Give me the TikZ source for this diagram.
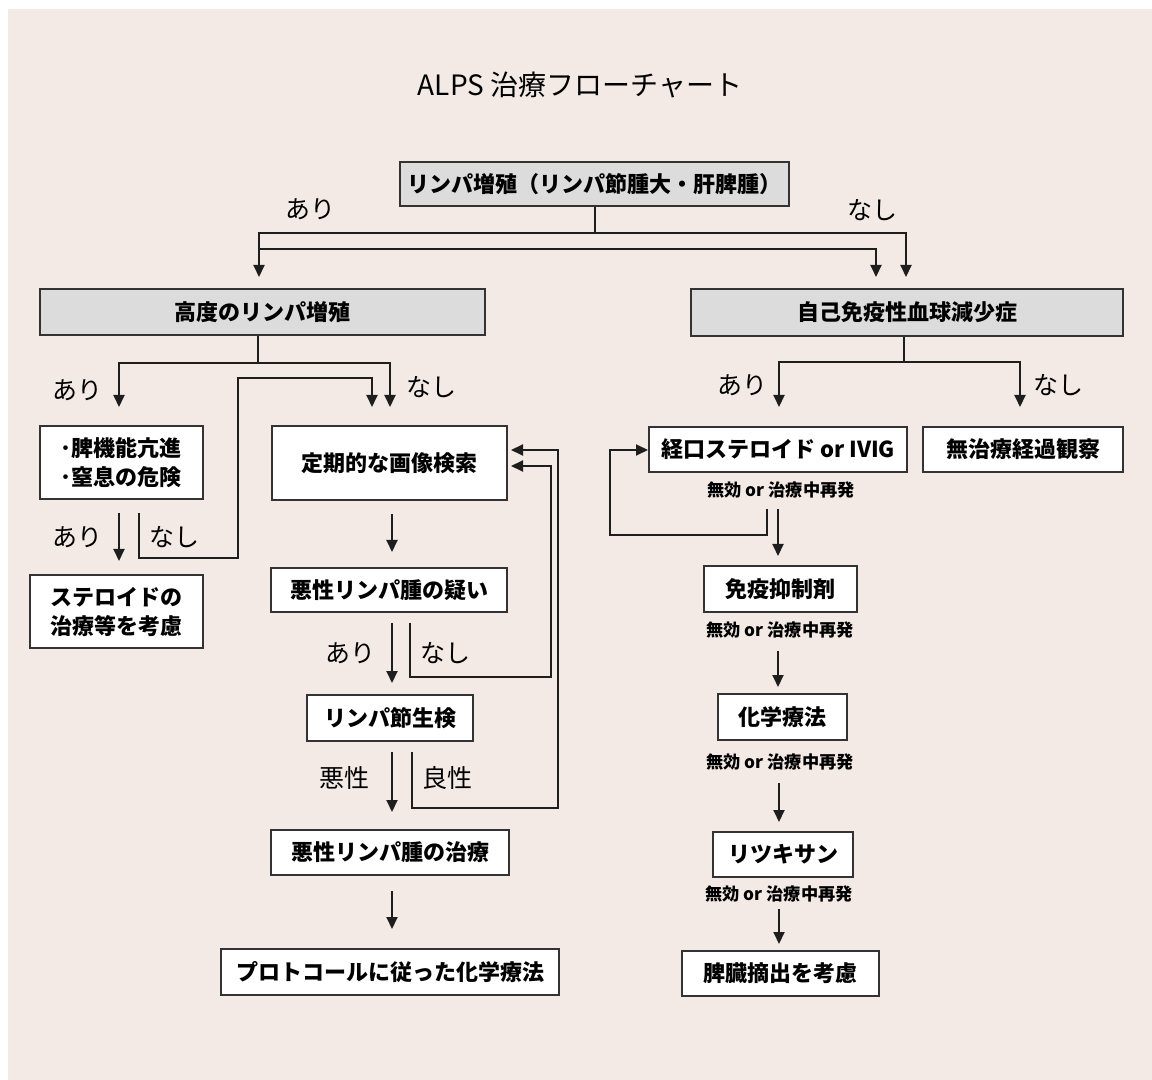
\documentclass[tikz,border=0pt]{standalone}
\usepackage{fontspec}
\setmainfont{Noto Sans CJK JP}
\usetikzlibrary{arrows.meta}
\definecolor{bg}{HTML}{F3EAE6}
\definecolor{boxgray}{HTML}{DCDCDC}
\definecolor{ln}{HTML}{1E1E1E}
\definecolor{bd}{HTML}{333333}
\begin{document}
\begin{tikzpicture}[x=0.5pt,y=-0.5pt,
  box/.style={draw=bd, line width=1pt, fill=white, inner sep=0pt, align=center, font=\bfseries\fontsize{11}{14.5}\selectfont},
  gbox/.style={box, fill=boxgray},
  lab/.style={inner sep=0pt, font=\fontsize{12.5}{14}\selectfont},
  small/.style={inner sep=0pt, font=\bfseries\fontsize{8.6}{10}\selectfont},
  conn/.style={draw=ln, line width=1pt},
  arr/.style={conn, -{Triangle[width=5.5pt,length=6pt]}},
]
\useasboundingbox (0,0) rectangle (1152,1080);
\fill[bg] (8,9) rectangle (1152,1080);

\node[inner sep=0pt, font=\fontsize{14}{16}\selectfont] (title) at (580,85) {ALPS 治療フローチャート};

% boxes
\node[gbox, minimum width=194.5pt, minimum height=22pt] (top) at (594.5,184) {リンパ増殖（リンパ節腫大・肝脾腫）};
\node[gbox, minimum width=222.5pt, minimum height=23pt] (koudo) at (262.5,312) {高度のリンパ増殖};
\node[gbox, minimum width=216pt, minimum height=23.5pt] (jiko) at (907,312.5) {自己免疫性血球減少症};
\node[box, minimum width=81.5pt, minimum height=36.5pt, align=left] (hiki) at (121.5,462.5) {･脾機能亢進\\･窒息の危険};
\node[box, minimum width=117.5pt, minimum height=37pt] (teiki) at (389.5,463) {定期的な画像検索};
\node[box, minimum width=86.5pt, minimum height=36.5pt] (steroid) at (116.5,611.5) {ステロイドの\\治療等を考慮};
\node[box, minimum width=118pt, minimum height=22pt] (akusei) at (389,590) {悪性リンパ腫の疑い};
\node[box, minimum width=83pt, minimum height=23pt] (seiken) at (390,718) {リンパ節生検};
\node[box, minimum width=119pt, minimum height=22.5pt] (chiryo) at (390,852.5) {悪性リンパ腫の治療};
\node[box, minimum width=169pt, minimum height=23pt] (protocol) at (390,972) {プロトコールに従った化学療法};
\node[box, minimum width=129pt, minimum height=22.5pt] (keiko) at (778,449.5) {経口ステロイド or IVIG};
\node[box, minimum width=100pt, minimum height=22.5pt] (muchiryo) at (1023,449.5) {無治療経過観察};
\node[box, minimum width=76.5pt, minimum height=23pt] (meneki) at (780.5,589) {免疫抑制剤};
\node[box, minimum width=64.5pt, minimum height=23pt] (kagaku) at (782.5,717) {化学療法};
\node[box, minimum width=70pt, minimum height=22.5pt] (rituxan) at (783,854.5) {リツキサン};
\node[box, minimum width=98.5pt, minimum height=22.5pt] (hizo) at (780.5,973.5) {脾臓摘出を考慮};

% top split
\draw[conn] (top.south) -- (594.5,233) coordinate (j1);
\draw[arr, shorten >=5.5pt] (j1) -| (jiko.north -| 906,0);
\draw[arr, shorten >=5.5pt] (j1) -| (koudo.north -| 259,0);
\coordinate (j2) at (259,249);
\draw[arr, shorten >=5.5pt] (j2) -| (jiko.north -| 876,0);
\node[lab] (l1) at (310,209) {あり};
\node[lab] (l2) at (872,210) {なし};

% left branch
\draw[conn] (koudo.south -| 258,0) -- (258,363) coordinate (j3);
\draw[arr, shorten >=9pt] (j3) -| (hiki.north -| 119,0);
\draw[arr, shorten >=9pt] (j3) -| (teiki.north -| 390,0);
\node[lab] (l3) at (78,390) {あり};
\node[lab] (l4) at (431,387) {なし};
\draw[arr, shorten <=6.5pt, shorten >=6.5pt] (hiki.south -| 119,0) -- (steroid.north -| 119,0);
\draw[arr, shorten <=6.5pt, shorten >=9pt] (hiki.south -| 139,0) -- (139,558) -- (238,558) -- (238,378) -- (372,378) -- (teiki.north -| 372,0);
\node[lab] (l5) at (78,537) {あり};
\node[lab] (l6) at (174,537) {なし};

\draw[arr, shorten <=6.5pt, shorten >=7.5pt] (teiki.south -| 392,0) -- (akusei.north -| 392,0);
\draw[arr, shorten <=5pt, shorten >=5.5pt] (akusei.south -| 392,0) -- (seiken.north -| 392,0);
\draw[arr, shorten <=5pt, shorten >=1.5pt] (akusei.south -| 410,0) -- (410,677) -- (551,677) -- (551,466) -- (teiki.east |- 0,466);
\node[lab] (l7) at (350,653) {あり};
\node[lab] (l8) at (445,653) {なし};
\draw[arr, shorten <=5pt, shorten >=8.5pt] (seiken.south -| 392,0) -- (chiryo.north -| 392,0);
\draw[arr, shorten <=5pt, shorten >=1.5pt] (seiken.south -| 412,0) -- (412,808) -- (558,808) -- (558,450) -- (teiki.east |- 0,450);
\node[lab] (l9) at (344,778) {悪性};
\node[lab] (l10) at (447,778) {良性};
\draw[arr, shorten <=7.5pt, shorten >=9.5pt] (chiryo.south -| 392,0) -- (protocol.north -| 392,0);

% right branch
\draw[conn] (jiko.south -| 904,0) -- (904,362) coordinate (j4);
\draw[arr, shorten >=9.5pt] (j4) -| (keiko.north -| 779,0);
\draw[arr, shorten >=9.5pt] (j4) -| (muchiryo.north -| 1020,0);
\node[lab] (l11) at (742,385) {あり};
\node[lab] (l12) at (1058,385) {なし};
\node[small] (s1) at (781,490) {無効 or 治療中再発};
\draw[arr, shorten <=18pt] (keiko.south -| 767,0) -- (767,535) -- (610,535) -- (610,450) -- (keiko.west |- 0,450);
\draw[arr, shorten <=18pt, shorten >=4.5pt] (keiko.south -| 778,0) -- (meneki.north -| 778,0);
\node[small] (s2) at (780,630) {無効 or 治療中再発};
\draw[arr, shorten <=19pt, shorten >=3pt] (meneki.south -| 778,0) -- (kagaku.north -| 778,0);
\node[small] (s3) at (780,762) {無効 or 治療中再発};
\draw[arr, shorten <=21pt, shorten >=4.5pt] (kagaku.south -| 779,0) -- (rituxan.north -| 779,0);
\node[small] (s4) at (779,894) {無効 or 治療中再発};
\draw[arr, shorten <=15.5pt, shorten >=3pt] (rituxan.south -| 779,0) -- (hizo.north -| 779,0);
\end{tikzpicture}
\end{document}
